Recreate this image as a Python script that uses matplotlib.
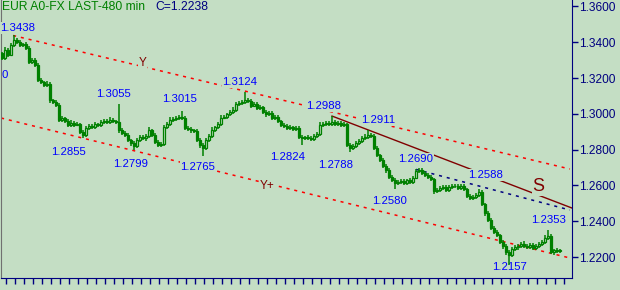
import matplotlib
matplotlib.use("Agg")
import matplotlib.pyplot as plt
import numpy as np

plt.rcParams['font.family'] = ['Liberation Sans', 'DejaVu Sans']

# closes in pips (1/10000)
close_pips = [
    13312, 13357, 13329, 13385, 13413, 13401, 13385, 13390, 13368, 13290,
    13301, 13273, 13189, 13178, 13161, 13167, 13077, 13066, 13050, 12966,
    12977, 12960, 12938, 12949, 12938, 12943, 12899, 12882, 12921, 12932,
    12926, 12943, 12938, 12954, 12960, 12954, 12966, 12960, 12957, 12910,
    12893, 12882, 12854, 12837, 12820, 12854, 12871, 12865, 12876, 12910,
    12882, 12843, 12826, 12831, 12926, 12943, 12966, 12971, 12977, 12982,
    12977, 12921, 12915, 12910, 12904, 12854, 12826, 12809, 12854, 12876,
    12910, 12926, 12943, 12977, 12982, 12999, 13010, 13022, 13055, 13061,
    13066, 13077, 13072, 13044, 13055, 13033, 13038, 13010, 12999, 13005,
    12977, 12982, 12960, 12938, 12932, 12921, 12926, 12915, 12921, 12871,
    12865, 12871, 12865, 12860, 12876, 12887, 12938, 12943, 12949, 12943,
    12954, 12943, 12949, 12938, 12943, 12826, 12809, 12820, 12837, 12848,
    12865, 12871, 12882, 12876, 12809, 12770, 12742, 12709, 12686, 12647,
    12630, 12614, 12619, 12625, 12614, 12630, 12619, 12642, 12681, 12686,
    12670, 12658, 12647, 12636, 12569, 12575, 12586, 12591, 12575, 12591,
    12597, 12597, 12586, 12597, 12580, 12541, 12530, 12535, 12547, 12563,
    12496, 12446, 12407, 12362, 12340, 12323, 12284, 12262, 12228, 12211,
    12245, 12256, 12262, 12273, 12262, 12256, 12267, 12250, 12262, 12273,
    12284, 12306, 12317, 12228, 12239, 12234, 12238,
]
first_open_pips = 13340

up_wick = [
    8, 14, 10, 12, 25, 9, 11, 8, 13, 10,
    12, 9, 14, 10, 8, 16, 11, 9, 12, 10,
    14, 8, 11, 15, 9, 12, 8, 10, 14, 9,
    11, 13, 8, 10, 12, 9, 14, 11, 8, 98,
    10, 12, 9, 8, 11, 14, 10, 13, 9, 15,
    8, 11, 10, 12, 14, 9, 16, 10, 12, 11,
    33, 9, 12, 10, 8, 11, 9, 13, 10, 12,
    14, 9, 11, 15, 10, 8, 12, 14, 9, 11,
    13, 47, 10, 12, 9, 14, 11, 8, 12, 10,
    9, 13, 11, 8, 12, 10, 14, 9, 11, 10,
    12, 8, 11, 13, 9, 10, 14, 12, 9, 11,
    34, 10, 12, 9, 11, 8, 10, 13, 9, 12,
    11, 14, 29, 10, 9, 12, 8, 11, 10, 13,
    9, 12, 14, 10, 11, 8, 13, 10, 9, 12,
    11, 9, 13, 10, 8, 12, 10, 14, 9, 11,
    12, 10, 9, 13, 11, 8, 12, 10, 9, 16,
    10, 8, 11, 9, 12, 10, 8, 11, 9, 10,
    14, 9, 12, 11, 15, 10, 9, 13, 11, 12,
    14, 16, 36, 10, 9, 12, 8,
]
dn_wick = [
    12, 9, 11, 8, 10, 13, 9, 12, 10, 14,
    9, 11, 13, 10, 12, 8, 14, 11, 9, 12,
    10, 13, 9, 11, 14, 8, 12, 16, 10, 9,
    12, 10, 14, 9, 11, 13, 8, 10, 12, 14,
    11, 9, 13, 15, 21, 10, 12, 9, 14, 11,
    13, 10, 12, 9, 11, 8, 12, 10, 9, 13,
    10, 12, 9, 14, 11, 13, 16, 44, 10, 12,
    9, 11, 13, 10, 8, 12, 9, 11, 10, 12,
    9, 11, 10, 13, 8, 12, 10, 9, 14, 11,
    12, 9, 11, 10, 13, 9, 12, 8, 11, 14,
    41, 10, 12, 9, 11, 13, 8, 10, 12, 9,
    11, 10, 9, 12, 10, 13, 21, 11, 9, 12,
    10, 12, 9, 11, 13, 10, 12, 9, 14, 11,
    12, 34, 10, 13, 9, 11, 12, 10, 8, 11,
    9, 12, 10, 11, 14, 9, 12, 10, 13, 9,
    11, 10, 12, 9, 13, 10, 12, 9, 11, 10,
    12, 14, 10, 13, 9, 12, 11, 14, 16, 54,
    12, 10, 14, 9, 11, 13, 10, 12, 9, 11,
    10, 12, 9, 11, 14, 10, 9,
]

# trend lines: (bar index pair, price pair)
upper_line = ([3.7, 189.3], [1.3438, 1.2692])
lower_line = ([-0.3, 189.3], [1.2977, 1.2195])
s_line = ([110, 190], [1.2988, 1.2474])
blue_line = ([138, 189.3], [1.2690, 1.2463])

# swing labels: text, bar position, price position
price_labels = [
    ("1.3438", 5.3, 1.3480), ("1.3055", 37.3, 1.3111), ("1.3015", 59.3, 1.3083),
    ("1.3124", 79.3, 1.3178), ("1.2988", 107.3, 1.3044), ("1.2911", 125.3, 1.2966),
    ("1.2855", 22.3, 1.2787), ("1.2799", 42.7, 1.2720), ("1.2765", 65.3, 1.2703),
    ("1.2824", 95.3, 1.2759), ("1.2788", 111.3, 1.2714), ("1.2690", 138.0, 1.2748),
    ("1.2588", 161.3, 1.2658), ("1.2580", 129.3, 1.2513), ("1.2353", 182.3, 1.2407),
    ("1.2157", 169.3, 1.2144),
]
line_labels = [("Y", 46.9, 1.3282, 8.5), ("Y+", 88.3, 1.2597, 8.5), ("S", 178.8, 1.2593, 13)]

y_ticks = [1.36, 1.34, 1.32, 1.30, 1.28, 1.26, 1.24, 1.22]

bg = '#C4DEC4'
green = '#008000'
navy = '#000080'

close = np.array(close_pips) / 10000
opn = np.concatenate([[first_open_pips / 10000], close[:-1]])
high = np.maximum(opn, close) + np.array(up_wick) / 10000
low = np.minimum(opn, close) - np.array(dn_wick) / 10000
idx = np.arange(len(close))

fig = plt.figure(figsize=(6.2, 2.9), dpi=100, facecolor=bg)
ax = fig.add_axes([1 / 620, 12 / 290, 571 / 620, 278 / 290], facecolor=bg)

ax.vlines(idx, low, high, color=green, linewidth=1.1, zorder=4)
down = close < opn
ax.bar(idx, np.abs(close - opn), bottom=np.minimum(opn, close), width=0.85,
       facecolor=np.where(down, green, bg).tolist(), edgecolor=green,
       linewidth=0.9, zorder=5)

dash = (0, (2, 3.2))
ax.plot(*upper_line, color='#FF0000', linewidth=1.1, linestyle=dash, zorder=2)
ax.plot(*lower_line, color='#FF0000', linewidth=1.1, linestyle=dash, zorder=2)
ax.plot(*s_line, color='#800000', linewidth=1, zorder=2)
ax.plot(*blue_line, color=navy, linewidth=1.1, linestyle=dash, zorder=2)

for txt, x, y in price_labels:
    ax.text(x, y, txt, color='#0000FF', fontsize=8.2, ha='center', va='center',
            zorder=3, bbox=dict(facecolor=bg, edgecolor='none', pad=0.5))
for txt, x, y, fs in line_labels:
    ax.text(x, y, txt, color='#800000', fontsize=fs, ha='center', va='center',
            zorder=3, bbox=dict(facecolor=bg, edgecolor='none', pad=0.5))

# tail of a label that runs off the left edge
ax.text(0.0, 0.730, "0", color='#0000FF', fontsize=8.2, ha='left', va='center',
        transform=ax.transAxes)

ax.text(1.5 / 571, 0.975, "EUR A0-FX LAST-480 min", color=green, fontsize=8.7,
        transform=ax.transAxes, ha='left', va='center')
ax.text(154 / 571, 0.975, "C=1.2238", color=navy, fontsize=8.7,
        transform=ax.transAxes, ha='left', va='center')

ax.set_xlim(-1 / 3, 190)
ax.set_ylim(1.20832, 1.36363)

ax.yaxis.tick_right()
ax.set_yticks(y_ticks)
ax.set_yticklabels([f"{v:.4f}" for v in y_ticks])
ax.tick_params(axis='y', colors=navy, length=4, width=1, pad=1, labelsize=8.6)
ax.set_xticks(np.arange(4 / 3, 188, 3))
ax.set_xticklabels([])
ax.tick_params(axis='x', colors=navy, length=4.3, width=1, direction='out')

ax.spines['top'].set_visible(False)
ax.spines['right'].set_color(navy)
ax.spines['bottom'].set_color(navy)
ax.spines['left'].set_color('#707070')

fig.savefig("out.png", dpi=100, facecolor=bg)
